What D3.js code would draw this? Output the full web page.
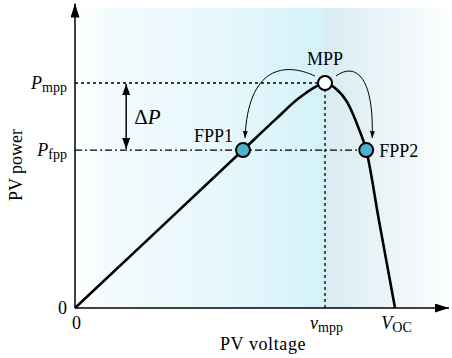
<!DOCTYPE html>
<html>
<head>
<meta charset="utf-8">
<script src="https://cdn.jsdelivr.net/npm/d3@7"></script>
<style>
  html, body { margin: 0; padding: 0; background: #fff; }
  svg { display: block; }
</style>
</head>
<body>
<svg id="chart" width="452" height="358" font-family="Liberation Serif"></svg>
<script>
// P–V characteristic of a PV string (voltage in V, power in W)
const voltage = [0, 10, 21, 25, 28, 30, 31.25, 32.5, 34, 35.4, 36.4, 38, 40];
const power   = [0, 33.4, 70.2, 83.6, 93.3, 98.2, 100, 97.8, 91.6, 80.4, 70.2, 38.8, 0];

// Operating points on the curve
const pointNames = ["FPP1", "MPP", "FPP2"];
const pointV     = [21, 31.25, 36.4];
const pointP     = [70.2, 100, 70.2];

// Reference levels
const vmpp = 31.25, voc = 40;
const pmpp = 100, pfpp = 70.2;

// Tick labels: [main symbol, subscript]
const xTickValues = [0, vmpp, voc];
const xTickLabels = [["0", ""], ["v", "mpp"], ["V", "OC"]];
const yTickValues = [0, pfpp, pmpp];
const yTickLabels = [["0", ""], ["P", "fpp"], ["P", "mpp"]];

const SERIF = "Liberation Serif";
const svg = d3.select("#chart");
const x = d3.scaleLinear().domain([0, 46.75]).range([75, 449]);
const y = d3.scaleLinear().domain([0, 134]).range([308, 6.5]);

// ---- background shading ----
const defs = svg.append("defs");
const xMax = x.range()[1];
const frac = v => (x(v) - x(0)) / (xMax - x(0));
const grad = defs.append("linearGradient").attr("id", "bg")
  .attr("x1", "0").attr("x2", "1").attr("y1", "0").attr("y2", "0");
[
  [0, "#ffffff"], [0.08, "#f4fbfd"], [0.4, "#e6f7fc"],
  [frac(vmpp) - 0.005, "#d4f1fa"], [frac(vmpp), "#d9ebf1"],
  [0.86, "#edf6f9"], [1, "#fdfeff"]
].forEach(([o, c]) => grad.append("stop").attr("offset", o).attr("stop-color", c));

svg.append("rect")
  .attr("x", x(0)).attr("y", 8)
  .attr("width", xMax - x(0)).attr("height", y(0) - 8)
  .attr("fill", "url(#bg)");

// ---- arrowhead markers ----
function marker(id, w, l) {
  defs.append("marker").attr("id", id)
    .attr("viewBox", `0 ${-w / 2} ${l} ${w}`)
    .attr("refX", l).attr("refY", 0)
    .attr("markerUnits", "userSpaceOnUse")
    .attr("markerWidth", l).attr("markerHeight", w)
    .attr("orient", "auto-start-reverse")
    .append("path").attr("d", `M0,${-w / 2}L${l},0L0,${w / 2}Z`).attr("fill", "#000");
}
marker("axisHead", 9, 14);
marker("dpHead", 8, 11);
marker("arcHead", 5, 7);

// ---- guide lines ----
svg.append("line")
  .attr("x1", x(0)).attr("x2", x(vmpp)).attr("y1", y(pmpp)).attr("y2", y(pmpp))
  .attr("stroke", "#000").attr("stroke-width", 1.3).attr("stroke-dasharray", "3,3");
svg.append("line")
  .attr("x1", x(vmpp)).attr("x2", x(vmpp)).attr("y1", y(pmpp)).attr("y2", y(0))
  .attr("stroke", "#000").attr("stroke-width", 1.3).attr("stroke-dasharray", "3,3");
svg.append("line")
  .attr("x1", x(0)).attr("x2", x(pointV[2])).attr("y1", y(pfpp)).attr("y2", y(pfpp))
  .attr("stroke", "#000").attr("stroke-width", 1.3).attr("stroke-dasharray", "7,3,2,3");

// ---- P–V curve ----
const pv = voltage.map((v, i) => [v, power[i]]);
svg.append("path")
  .datum(pv)
  .attr("d", d3.line().x(d => x(d[0])).y(d => y(d[1])).curve(d3.curveMonotoneX))
  .attr("fill", "none").attr("stroke", "#000").attr("stroke-width", 2.6)
  .attr("stroke-linejoin", "round");

// ---- transition arcs MPP -> FPP1, MPP -> FPP2 ----
const mx = x(pointV[1]), my = y(pointP[1]);
const f1x = x(pointV[0]), f1y = y(pointP[0]);
const f2x = x(pointV[2]), f2y = y(pointP[2]);
const arcs = [
  `M${mx - 10},${my - 7}C${mx - 40},${my - 21} ${f1x + 5},${my - 17} ${f1x + 2},${f1y - 12}`,
  `M${mx + 11},${my - 7}C${mx + 27},${my - 19} ${f2x + 8},${my - 13} ${f2x + 6},${f2y - 12}`
];
svg.selectAll(".arc").data(arcs).enter().append("path")
  .attr("d", d => d).attr("fill", "none").attr("stroke", "#000").attr("stroke-width", 1)
  .attr("marker-end", "url(#arcHead)");

// ---- ΔP arrow ----
const dpV = 6.4;
svg.append("line")
  .attr("x1", x(dpV)).attr("x2", x(dpV)).attr("y1", y(pmpp) + 1).attr("y2", y(pfpp) - 1)
  .attr("stroke", "#000").attr("stroke-width", 1.5)
  .attr("marker-start", "url(#dpHead)").attr("marker-end", "url(#dpHead)");
const dpText = svg.append("text").attr("x", x(dpV) + 8).attr("y", (y(pmpp) + y(pfpp)) / 2 + 7)
  .attr("font-family", SERIF).attr("font-size", 21);
dpText.append("tspan").text("Δ");
dpText.append("tspan").attr("font-style", "italic").text("P");

// ---- operating points ----
svg.selectAll(".pt").data(pointNames).enter().append("circle")
  .attr("cx", (d, i) => x(pointV[i])).attr("cy", (d, i) => y(pointP[i]))
  .attr("r", 7)
  .attr("fill", d => d === "MPP" ? "#ffffff" : "#4eb3cf")
  .attr("stroke", "#000").attr("stroke-width", 2);

const labelPos = {
  FPP1: { dx: -10, dy: -8, anchor: "end" },
  MPP:  { dx: 0, dy: -18, anchor: "middle" },
  FPP2: { dx: 13, dy: 7, anchor: "start" }
};
svg.selectAll(".ptLabel").data(pointNames).enter().append("text")
  .attr("x", (d, i) => x(pointV[i]) + labelPos[d].dx)
  .attr("y", (d, i) => y(pointP[i]) + labelPos[d].dy)
  .attr("text-anchor", d => labelPos[d].anchor)
  .attr("font-family", SERIF).attr("font-size", 18)
  .text(d => d);

// ---- axes ----
function subLabel(sel, labels, values) {
  sel.selectAll(".tick text").each(function (d) {
    const i = values.indexOf(d);
    const [main, sub] = labels[i];
    const t = d3.select(this).text(null);
    t.append("tspan").attr("font-style", main === "0" ? "normal" : "italic").text(main);
    if (sub) t.append("tspan").attr("font-size", 14).attr("dy", 3).text(sub);
  });
}

const gx = svg.append("g").attr("transform", `translate(0,${y(0)})`)
  .call(d3.axisBottom(x).tickValues(xTickValues).tickSize(0).tickPadding(8));
gx.attr("font-family", SERIF);
gx.select(".domain").remove();
gx.selectAll(".tick text").attr("font-size", 18).attr("font-family", SERIF).attr("fill", "#000").attr("dx", 1);
subLabel(gx, xTickLabels, xTickValues);

const gy = svg.append("g").attr("transform", `translate(${x(0)},0)`)
  .call(d3.axisLeft(y).tickValues(yTickValues).tickSize(0).tickPadding(8));
gy.attr("font-family", SERIF);
gy.select(".domain").remove();
gy.selectAll(".tick text").attr("font-size", 18).attr("font-family", SERIF).attr("fill", "#000");
subLabel(gy, yTickLabels, yTickValues);

// axis lines with arrowheads
svg.append("line")
  .attr("x1", x(0)).attr("y1", y(0)).attr("x2", x(0)).attr("y2", y.range()[1] - 3)
  .attr("stroke", "#000").attr("stroke-width", 1.5).attr("marker-end", "url(#axisHead)");
svg.append("line")
  .attr("x1", x(0)).attr("y1", y(0)).attr("x2", x.range()[1]).attr("y2", y(0))
  .attr("stroke", "#000").attr("stroke-width", 1.5).attr("marker-end", "url(#axisHead)");

// axis titles
svg.append("text").attr("x", 263).attr("y", 350).attr("text-anchor", "middle")
  .attr("font-family", SERIF).attr("font-size", 18).attr("letter-spacing", 0.6).text("PV voltage");
svg.append("text").attr("transform", "translate(22,165) rotate(-90)")
  .attr("text-anchor", "middle").attr("font-family", SERIF).attr("font-size", 18).text("PV power");
</script>
</body>
</html>
